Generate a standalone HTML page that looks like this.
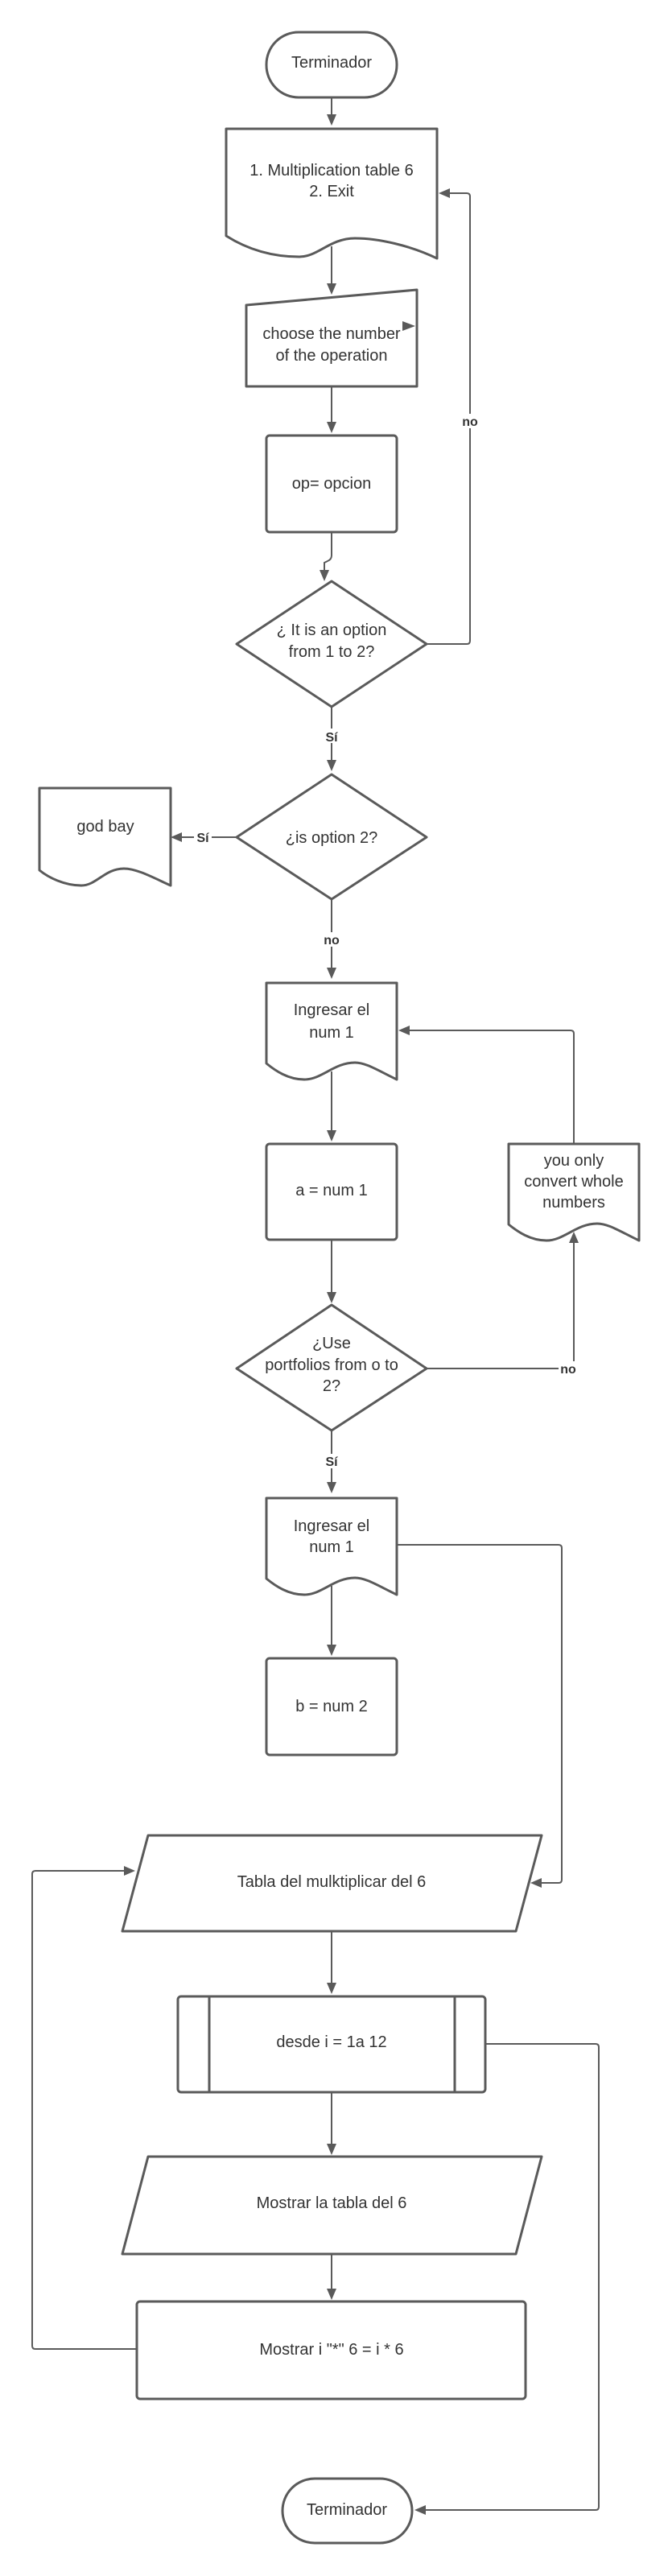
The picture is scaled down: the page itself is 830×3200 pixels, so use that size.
<!DOCTYPE html>
<html><head><meta charset="utf-8"><style>
html,body{margin:0;padding:0;background:#fff;}
svg{display:block;}
text{font-family:"Liberation Sans",sans-serif;fill:#333;font-size:20px;text-anchor:middle;}
.s{fill:#fff;stroke:#5a5a5a;stroke-width:3;stroke-linejoin:round;}
.c{fill:none;stroke:#5a5a5a;stroke-width:2;}
.a{fill:#5a5a5a;}
.l{font-size:16px;font-weight:bold;fill:#333;}
</style></head><body>
<svg width="830" height="3200" viewBox="0 0 830 3200">
<!-- connectors -->
<path class="c" d="M412,121V144"/><polygon class="a" points="406,142 418,142 412,156"/>
<path class="c" d="M412,306V354"/><polygon class="a" points="406,352 418,352 412,366"/>
<path class="c" d="M412,480V526"/><polygon class="a" points="406,524 418,524 412,538"/>
<path class="c" d="M412,661V690Q412,695 407,697L403,699V710"/><polygon class="a" points="397,708 409,708 403,722"/>
<path class="c" d="M530,800H580Q584,800 584,796V244Q584,240 580,240H557"/><polygon class="a" points="559,234 559,246 545,240"/>
<rect x="572" y="514" width="24" height="18" fill="#fff"/><text class="l" x="584" y="529">no</text>
<path class="c" d="M412,878V946"/><polygon class="a" points="406,944 418,944 412,958"/>
<rect x="400" y="905" width="24" height="18" fill="#fff"/><text class="l" x="412" y="921">Sí</text>
<path class="c" d="M294,1040H224"/><polygon class="a" points="226,1034 226,1046 212,1040"/>
<rect x="241" y="1031" width="22" height="18" fill="#fff"/><text class="l" x="252" y="1046">Sí</text>
<path class="c" d="M412,1117V1204"/><polygon class="a" points="406,1202 418,1202 412,1216"/>
<rect x="400" y="1158" width="24" height="18" fill="#fff"/><text class="l" x="412" y="1173">no</text>
<path class="c" d="M412,1331V1406"/><polygon class="a" points="406,1404 418,1404 412,1418"/>
<path class="c" d="M412,1540V1607"/><polygon class="a" points="406,1605 418,1605 412,1619"/>
<path class="c" d="M530,1700H709Q713,1700 713,1696V1542"/><polygon class="a" points="707,1544 719,1544 713,1530"/>
<rect x="694" y="1691" width="24" height="18" fill="#fff"/><text class="l" x="706" y="1706">no</text>
<path class="c" d="M713,1421V1284Q713,1280 709,1280H507"/><polygon class="a" points="509,1274 509,1286 495,1280"/>
<path class="c" d="M412,1777V1843"/><polygon class="a" points="406,1841 418,1841 412,1855"/>
<rect x="400" y="1806" width="24" height="18" fill="#fff"/><text class="l" x="412" y="1821">Sí</text>
<path class="c" d="M493,1919H694Q698,1919 698,1923V2335Q698,2339 694,2339H671"/><polygon class="a" points="673,2333 673,2345 659,2339"/>
<path class="c" d="M412,1970V2045"/><polygon class="a" points="406,2043 418,2043 412,2057"/>
<path class="c" d="M412,2399V2465"/><polygon class="a" points="406,2463 418,2463 412,2477"/>
<path class="c" d="M412,2599V2665"/><polygon class="a" points="406,2663 418,2663 412,2677"/>
<path class="c" d="M412,2800V2845"/><polygon class="a" points="406,2843 418,2843 412,2857"/>
<path class="c" d="M170,2918H44Q40,2918 40,2914V2328Q40,2324 44,2324H156"/><polygon class="a" points="154,2318 154,2330 168,2324"/>
<path class="c" d="M603,2539H740Q744,2539 744,2543V3114Q744,3118 740,3118H527"/><polygon class="a" points="529,3112 529,3124 515,3118"/>

<!-- shapes -->
<rect class="s" x="331" y="40" width="162" height="81" rx="40"/>
<text x="412" y="84">Terminador</text>

<path class="s" d="M281,160H543V321C510,305 470,296 441,296C410,296 395,319 372,319C330,319 300,305 281,293Z"/>
<text x="412" y="218">1. Multiplication table 6</text>
<text x="412" y="244">2. Exit</text>

<path class="s" d="M306,379L518,360V480H306Z"/>
<text x="412" y="421">choose the number</text>
<text x="412" y="448">of the operation</text>
<polygon class="a" points="500,399 500,411 516,405"/>

<rect class="s" x="331" y="541" width="162" height="120" rx="4"/>
<text x="412" y="607">op= opcion</text>

<polygon class="s" points="412,722 530,800 412,878 294,800"/>
<text x="412" y="789">¿ It is an option</text>
<text x="412" y="816">from 1 to 2?</text>

<polygon class="s" points="412,962 530,1040 412,1117 294,1040"/>
<text x="412" y="1047">¿is option 2?</text>

<path class="s" d="M49,979H212V1100C190,1090 170,1079 154,1079C130,1079 120,1100 101,1100C80,1100 60,1090 49,1081Z"/>
<text x="131" y="1033">god bay</text>

<path class="s" id="d1" d="M331,1221H493V1341C470,1330 455,1320 441,1320C415,1320 400,1341 378,1341C358,1341 342,1330 331,1321Z"/>
<text x="412" y="1261">Ingresar el</text>
<text x="412" y="1289">num 1</text>

<rect class="s" x="331" y="1421" width="162" height="119" rx="4"/>
<text x="412" y="1485">a = num 1</text>

<polygon class="s" points="412,1621 530,1700 412,1777 294,1700"/>
<text x="412" y="1675">¿Use</text>
<text x="412" y="1702">portfolios from o to</text>
<text x="412" y="1728">2?</text>

<path class="s" transform="translate(301,200)" d="M331,1221H493V1341C470,1330 455,1320 441,1320C415,1320 400,1341 378,1341C358,1341 342,1330 331,1321Z"/>
<text x="713" y="1448">you only</text>
<text x="713" y="1474">convert whole</text>
<text x="713" y="1500">numbers</text>

<path class="s" transform="translate(0,640)" d="M331,1221H493V1341C470,1330 455,1320 441,1320C415,1320 400,1341 378,1341C358,1341 342,1330 331,1321Z"/>
<text x="412" y="1902">Ingresar el</text>
<text x="412" y="1928">num 1</text>

<rect class="s" x="331" y="2060" width="162" height="120" rx="4"/>
<text x="412" y="2126">b = num 2</text>

<path class="s" d="M184,2280H673L641,2399H152Z"/>
<text x="412" y="2344">Tabla del mulktiplicar del 6</text>

<rect class="s" x="221" y="2480" width="382" height="119" rx="4"/>
<line class="s" x1="260" y1="2480" x2="260" y2="2599"/>
<line class="s" x1="565" y1="2480" x2="565" y2="2599"/>
<text x="412" y="2543">desde i = 1a 12</text>

<path class="s" d="M184,2679H673L641,2800H152Z"/>
<text x="412" y="2743">Mostrar la tabla del 6</text>

<rect class="s" x="170" y="2859" width="483" height="121" rx="4"/>
<text x="412" y="2925">Mostrar i "*" 6 = i * 6</text>

<rect class="s" x="351" y="3079" width="161" height="80" rx="40"/>
<text x="431" y="3124">Terminador</text>
</svg>
</body></html>
